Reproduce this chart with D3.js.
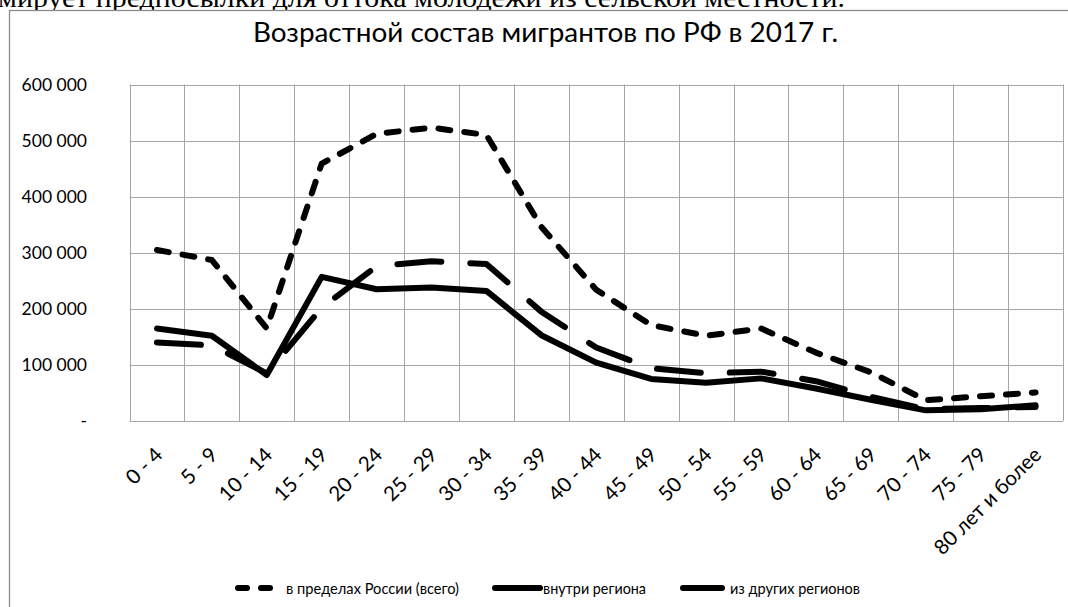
<!DOCTYPE html>
<html><head><meta charset="utf-8">
<script src="https://cdn.jsdelivr.net/npm/d3@7"></script>
<style>
html,body{margin:0;padding:0;background:#fff;overflow:hidden;}
svg{display:block;}
text{font-family:Lato,"Open Sans",sans-serif;fill:#000;}
</style></head>
<body>
<svg id="chart" width="1068" height="607"></svg>
<script>
const categories = ["0 - 4","5 - 9","10 - 14","15 - 19","20 - 24","25 - 29","30 - 34","35 - 39","40 - 44","45 - 49","50 - 54","55 - 59","60 - 64","65 - 69","70 - 74","75 - 79","80 лет и более"];
const withinRussia = [305000,287000,165000,459000,512000,523000,510000,346000,234000,171000,152000,165000,122000,87000,37000,44000,51000];
const withinRegion = [165000,152000,82000,257000,235000,238000,232000,153000,104000,75000,68000,76000,58000,38000,19000,21000,28000];
const fromOtherRegions = [140000,135000,85000,202000,276000,285000,280000,195000,131000,94000,85000,88000,71000,43000,21000,23000,25000];
const yTicks = [0,100000,200000,300000,400000,500000,600000];
const seriesNames = ["в пределах России (всего)","внутри региона","из других регионов"];
const titleText = "Возрастной состав мигрантов по РФ в 2017 г.";
const topText = "мирует предпосылки для оттока молодежи из сельской местности.";

const svg = d3.select("#chart");
const L = 129.5, R = 1063, T = 84.5, B = 421;

// page text cut at top
svg.append("text").attr("x",-2).attr("y",7)
  .attr("textLength",847).attr("lengthAdjust","spacingAndGlyphs")
  .style("font-family","'Liberation Serif','Times New Roman',serif").style("font-size","28px")
  .text(topText);

// chart frame
svg.append("rect").attr("x",9.5).attr("y",10.5).attr("width",1100).attr("height",700)
  .attr("fill","#fff").attr("stroke","#8c8c8c").attr("stroke-width",1.3);

svg.append("text").attr("x",253).attr("y",41.5)
  .attr("textLength",585).attr("lengthAdjust","spacingAndGlyphs")
  .style("font-size","27px").text(titleText);

const x = d3.scaleBand().domain(categories).range([L,R]).padding(0);
const y = d3.scaleLinear().domain([0,600000]).range([B,T]);
const cx = d => x(d) + x.bandwidth()/2;

// gridlines
const grid = svg.append("g");
grid.selectAll("line.h").data(yTicks).join("line")
  .attr("x1",L).attr("x2",R).attr("y1",d=>Math.round(y(d))+0.5).attr("y2",d=>Math.round(y(d))+0.5)
  .attr("stroke","#a6a6a6").attr("stroke-width",1);
const edges = categories.map(c=>x(c)).concat([R]);
grid.selectAll("line.v").data(edges).join("line")
  .attr("x1",d=>Math.round(d)+0.5).attr("x2",d=>Math.round(d)+0.5).attr("y1",T).attr("y2",B)
  .attr("stroke","#a6a6a6").attr("stroke-width",1);

// y axis
const fmt = v => v===0 ? "-" : d3.format(",")(v).replace(/,/g," ");
const ya = svg.append("g").attr("transform",`translate(${L},0)`)
  .call(d3.axisLeft(y).tickValues(yTicks).tickFormat(fmt).tickSize(0).tickPadding(42.5));
ya.select(".domain").remove();
ya.selectAll("text").style("font-family","Lato,sans-serif").style("font-size","17.5px").attr("fill","#000");

// x axis
const xa = svg.append("g").attr("transform",`translate(0,${B})`)
  .call(d3.axisBottom(x).tickSize(0));
xa.select(".domain").remove();
xa.selectAll("text").style("font-family","Lato,sans-serif").style("font-size","20.5px").attr("fill","#000")
  .attr("text-anchor","end").attr("x",0).attr("y",0).attr("dy",0)
  .attr("transform","translate(7,35) rotate(-45)");

// lines
const line = d3.line().x((d,i)=>cx(categories[i])).y(d=>y(d));
const plot = svg.append("g").attr("fill","none").attr("stroke","#000").attr("stroke-width",6).attr("stroke-linecap","round").attr("stroke-linejoin","round");
plot.append("path").attr("d",line(withinRussia)).attr("stroke-dasharray","12,14");
plot.append("path").attr("d",line(withinRegion));
plot.append("path").attr("d",line(fromOtherRegions)).attr("stroke-dasharray","44,29");

// legend
const lg = svg.append("g").attr("stroke","#000").attr("stroke-width",6).attr("stroke-linecap","round");
const ly = 588;
lg.append("line").attr("x1",238).attr("x2",270).attr("y1",ly).attr("y2",ly).attr("stroke-dasharray","9,14");
lg.append("line").attr("x1",495).attr("x2",540).attr("y1",ly).attr("y2",ly);
lg.append("line").attr("x1",683).attr("x2",722).attr("y1",ly).attr("y2",ly);
const lt = svg.append("g").style("font-size","16px");
const legX = [286,543,730];
const legW = [173,103,130];
lt.selectAll("text").data(seriesNames).join("text")
  .attr("x",(d,i)=>legX[i]).attr("y",ly+5.5)
  .attr("textLength",(d,i)=>legW[i]).attr("lengthAdjust","spacingAndGlyphs")
  .text(d=>d);
</script>
</body></html>
